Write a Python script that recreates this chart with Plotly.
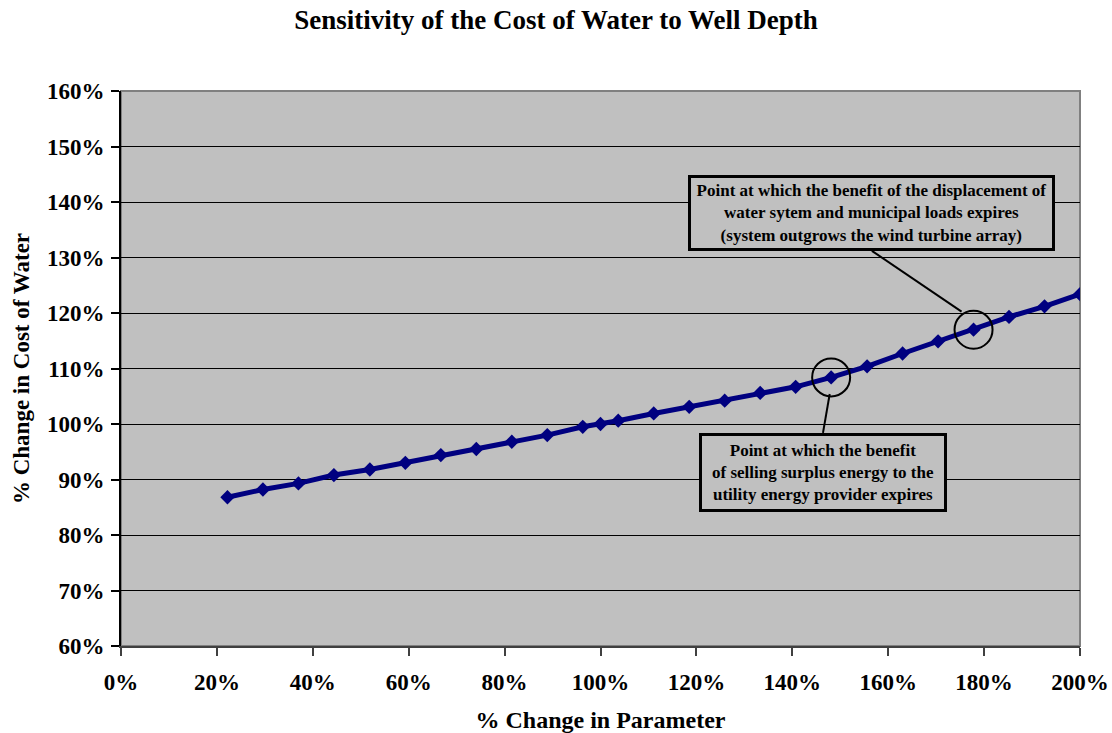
import plotly.graph_objects as go

# Data (% change in parameter vs % change in cost of water)
param_change_pct = [22.2, 29.6, 37.0, 44.4, 51.9, 59.3, 66.7, 74.1, 81.5, 88.9, 96.3, 100.0,
                    103.7, 111.1, 118.5, 125.9, 133.3, 140.7, 148.1, 155.6, 163.0, 170.4,
                    177.8, 185.2, 192.6, 200.0]
cost_change_pct = [86.8, 88.2, 89.3, 90.8, 91.8, 93.0, 94.4, 95.5, 96.8, 98.0, 99.5, 100.0,
                   100.6, 101.9, 103.1, 104.2, 105.6, 106.7, 108.4, 110.4, 112.7, 114.9,
                   117.0, 119.3, 121.2, 123.4]

x_ticks = [0, 20, 40, 60, 80, 100, 120, 140, 160, 180, 200]
y_ticks = [60, 70, 80, 90, 100, 110, 120, 130, 140, 150, 160]

title_text = "Sensitivity of the Cost of Water to Well Depth"
x_title = "% Change in Parameter"
y_title = "% Change in Cost of Water"
note_utility = "Point at which the benefit<br>of selling surplus energy to the<br>utility energy provider expires"
note_wind = "Point at which the benefit of the displacement of<br>water sytem and municipal loads expires<br>(system outgrows the wind turbine array)"

FONT = "Liberation Serif, Times New Roman, serif"
NAVY = "#000080"
GRAY = "#c0c0c0"

fig = go.Figure()
fig.add_trace(go.Scatter(
    x=param_change_pct, y=cost_change_pct, mode="lines+markers",
    line=dict(color=NAVY, width=5),
    marker=dict(symbol="diamond", size=11, color=NAVY),
    showlegend=False, hoverinfo="x+y",
))

# circles highlighting the two breakpoints
for px, py in [(param_change_pct[18], cost_change_pct[18]), (param_change_pct[22], cost_change_pct[22])]:
    fig.add_shape(type="circle", xref="x", yref="y", xsizemode="pixel", ysizemode="pixel",
                  xanchor=px, yanchor=py, x0=-19, x1=19, y0=-19, y1=19,
                  line=dict(color="black", width=2))

# leader lines
fig.add_shape(type="line", xref="x", yref="y", x0=146.4, y0=98.4, x1=147.8, y1=105.4,
              line=dict(color="black", width=2))
fig.add_shape(type="line", xref="x", yref="y", x0=156.6, y0=131.2, x1=175.3, y1=120.25,
              line=dict(color="black", width=2))

# plot area border (grey top/right)
fig.add_shape(type="rect", xref="paper", yref="paper", x0=0, x1=1, y0=0, y1=1,
              line=dict(color="#808080", width=2), layer="below")

fig.add_annotation(x=156.5, y=138.0, xref="x", yref="y", text=note_wind, showarrow=False,
                   font=dict(family=FONT, size=17, color="black", weight="bold"),
                   bgcolor=GRAY, bordercolor="black", borderwidth=3, borderpad=0,
                   width=361, height=70, align="center")
fig.add_annotation(x=146.5, y=91.2, xref="x", yref="y", text=note_utility, showarrow=False,
                   font=dict(family=FONT, size=17, color="black", weight="bold"),
                   bgcolor=GRAY, bordercolor="black", borderwidth=3, borderpad=0,
                   width=242, height=73, align="center")

fig.update_layout(
    width=1112, height=733,
    margin=dict(l=121, r=32, t=91, b=87),
    paper_bgcolor="white", plot_bgcolor=GRAY,
    title=dict(text=title_text, x=0.5, xanchor="center", y=0.973, yanchor="middle",
               automargin=False,
               font=dict(family=FONT, size=27, color="black", weight="bold")),
    font=dict(family=FONT, color="black"),
)
fig.update_xaxes(
    range=[0, 200], tickvals=x_ticks, ticktext=[f"{v}%" for v in x_ticks],
    showgrid=False, zeroline=False, automargin=False,
    showline=True, linecolor="#404040", linewidth=2,
    ticks="outside", ticklen=8, tickcolor="#404040", tickwidth=1.5,
    ticklabelstandoff=6,
    tickfont=dict(family=FONT, size=23, color="black", weight="bold"),
    title=dict(text=x_title, standoff=18, font=dict(family=FONT, size=24, color="black", weight="bold")),
)
fig.update_yaxes(
    range=[60, 160], tickvals=y_ticks, ticktext=[f"{v}%" for v in y_ticks],
    showgrid=True, gridcolor="black", gridwidth=1, zeroline=False, automargin=False,
    showline=True, linecolor="black", linewidth=2,
    ticks="outside", ticklen=8, tickcolor="black", tickwidth=1.5,
    ticklabelstandoff=2,
    tickfont=dict(family=FONT, size=23, color="black", weight="bold"),
    title=dict(text=y_title, standoff=11, font=dict(family=FONT, size=23, color="black", weight="bold")),
)

fig.write_html("out.html", config={"displayModeBar": False},
               post_script="document.body.style.margin='0';")
